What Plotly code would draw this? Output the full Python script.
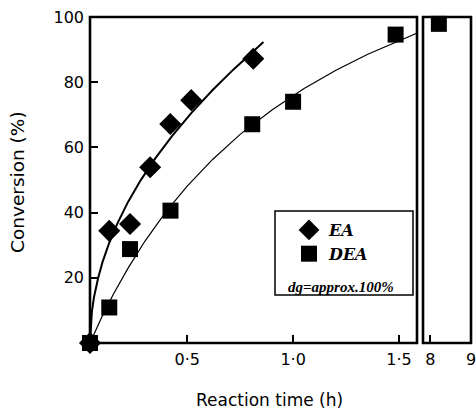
import plotly.graph_objects as go

# Measured data (reaction time in h, conversion in %)
ea_time = [0.041, 0.132, 0.230, 0.325, 0.420, 0.519, 0.812]
ea_conv = [0.0, 34.4, 36.5, 53.9, 67.2, 74.5, 87.2]

dea_time_short = [0.041, 0.132, 0.230, 0.421, 0.807, 1.000, 1.484]
dea_conv_short = [0.0, 10.9, 28.8, 40.6, 67.1, 74.0, 94.6]
dea_time_long = [8.21]
dea_conv_long = [97.9]

# Fitted curves
ea_fit_time = [0.041, 0.045, 0.05, 0.06, 0.08, 0.10, 0.13, 0.17, 0.22, 0.28, 0.35, 0.43, 0.52, 0.62, 0.72, 0.86]
ea_fit_conv = [0.0, 6.4, 9.7, 14.1, 20.1, 24.8, 30.4, 36.6, 43.2, 49.9, 56.7, 63.6, 70.6, 77.6, 84.0, 92.3]

dea_fit_time = [0.041, 0.07, 0.10, 0.15, 0.22, 0.30, 0.40, 0.50, 0.62, 0.75, 0.90, 1.05, 1.20, 1.35, 1.50, 1.59]
dea_fit_conv = [0.0, 4.2, 8.4, 14.8, 22.9, 31.2, 40.3, 48.1, 56.3, 64.0, 71.5, 78.0, 83.6, 88.5, 92.8, 95.2]

x_tickvals = [0.5, 1.0, 1.5]
x_ticktext = ["0·5", "1·0", "1·5"]
x2_tickvals = [8, 9]
x2_ticktext = ["8", "9"]
y_tickvals = [20, 40, 60, 80, 100]

W, H = 476, 415
def px(x):
    return x / W
def py(y):
    return (H - y) / H

SANS = "DejaVu Sans, Arial"
SERIF_LEG = "DejaVu Serif, Times New Roman"

fig = go.Figure()

fig.add_trace(go.Scatter(x=ea_fit_time, y=ea_fit_conv, mode="lines", line=dict(color="black", width=2),
                         showlegend=False, hoverinfo="skip", xaxis="x", yaxis="y"))
fig.add_trace(go.Scatter(x=dea_fit_time, y=dea_fit_conv, mode="lines", line=dict(color="black", width=1.2),
                         showlegend=False, hoverinfo="skip", xaxis="x", yaxis="y"))

fig.add_trace(go.Scatter(x=ea_time, y=ea_conv, mode="markers", name="<b><i>EA</i></b>",
                         marker=dict(symbol="diamond", size=17, color="black"),
                         cliponaxis=False, xaxis="x", yaxis="y"))
fig.add_trace(go.Scatter(x=dea_time_short, y=dea_conv_short, mode="markers", name="<b><i>DEA</i></b>",
                         marker=dict(symbol="square", size=16, color="black"),
                         cliponaxis=False, xaxis="x", yaxis="y", legendgroup="dea"))
fig.add_trace(go.Scatter(x=dea_time_long, y=dea_conv_long, mode="markers", showlegend=False,
                         marker=dict(symbol="square", size=16, color="black"),
                         cliponaxis=False, xaxis="x2", yaxis="y2", legendgroup="dea"))

def axis_style(ticks="inside"):
    return dict(showline=False, automargin=False,
                showgrid=False, zeroline=False, ticks=ticks, tickcolor="black",
                tickwidth=1.5, ticklen=8, ticklabeloverflow="allow",
                tickfont=dict(family=SANS, size=16, color="black"))

frame = dict(color="black", width=2.6)

ydom = [py(343), py(17)]
fig.update_layout(
    template="none",
    width=W, height=H,
    margin=dict(l=0, r=0, t=0, b=0, pad=0, autoexpand=False),
    paper_bgcolor="white", plot_bgcolor="white",
    xaxis=dict(domain=[px(90), px(417)], range=[0.041, 1.585], tickvals=x_tickvals,
               ticktext=x_ticktext, anchor="y", ticklabelstandoff=5, **axis_style()),
    xaxis2=dict(domain=[px(423), px(471)], range=[7.82, 9.0], tickvals=x2_tickvals,
                ticktext=x2_ticktext, anchor="y2", ticklabelstandoff=5, **axis_style()),
    yaxis=dict(domain=ydom, range=[0, 100], tickvals=y_tickvals, anchor="x",
               ticklabelstandoff=5, **axis_style()),
    yaxis2=dict(domain=ydom, range=[0, 100], anchor="x2", showticklabels=False,
                **axis_style(ticks="")),
    showlegend=True,
    legend=dict(x=px(289), y=py(213), xanchor="left", yanchor="top",
                bgcolor="rgba(0,0,0,0)", borderwidth=0,
                font=dict(family=SERIF_LEG, size=16, color="black"),
                tracegroupgap=0, itemsizing="trace"),
    shapes=[
        dict(type="rect", xref="x domain", yref="y domain", x0=0, x1=1, y0=0, y1=1,
             line=frame, fillcolor="rgba(0,0,0,0)", layer="above"),
        dict(type="rect", xref="x2 domain", yref="y2 domain", x0=0, x1=1, y0=0, y1=1,
             line=frame, fillcolor="rgba(0,0,0,0)", layer="above"),
        dict(type="rect", xref="paper", yref="paper",
             x0=px(275), x1=px(413), y0=py(295), y1=py(211),
             line=dict(color="black", width=1.5), fillcolor="rgba(0,0,0,0)"),
    ],
    annotations=[
        dict(text="<b><i>dg=approx.100%</i></b>", xref="paper", yref="paper",
             x=px(341), y=py(287), xanchor="center", yanchor="middle", showarrow=False,
             font=dict(family="Liberation Serif, Times New Roman", size=15, color="black")),
        dict(text="Reaction time (h)", xref="paper", yref="paper",
             x=px(269), y=py(400), xanchor="center", yanchor="middle", showarrow=False,
             font=dict(family=SANS, size=17, color="black")),
        dict(text="Conversion (%)", xref="paper", yref="paper", textangle=-90,
             x=px(17), y=py(182), xanchor="center", yanchor="middle", showarrow=False,
             font=dict(family=SANS, size=18.5, color="black")),
    ],
)

fig.write_html("out.html", config={"displayModeBar": False},
               post_script="document.body.style.margin='0';document.body.style.overflow='hidden';")
